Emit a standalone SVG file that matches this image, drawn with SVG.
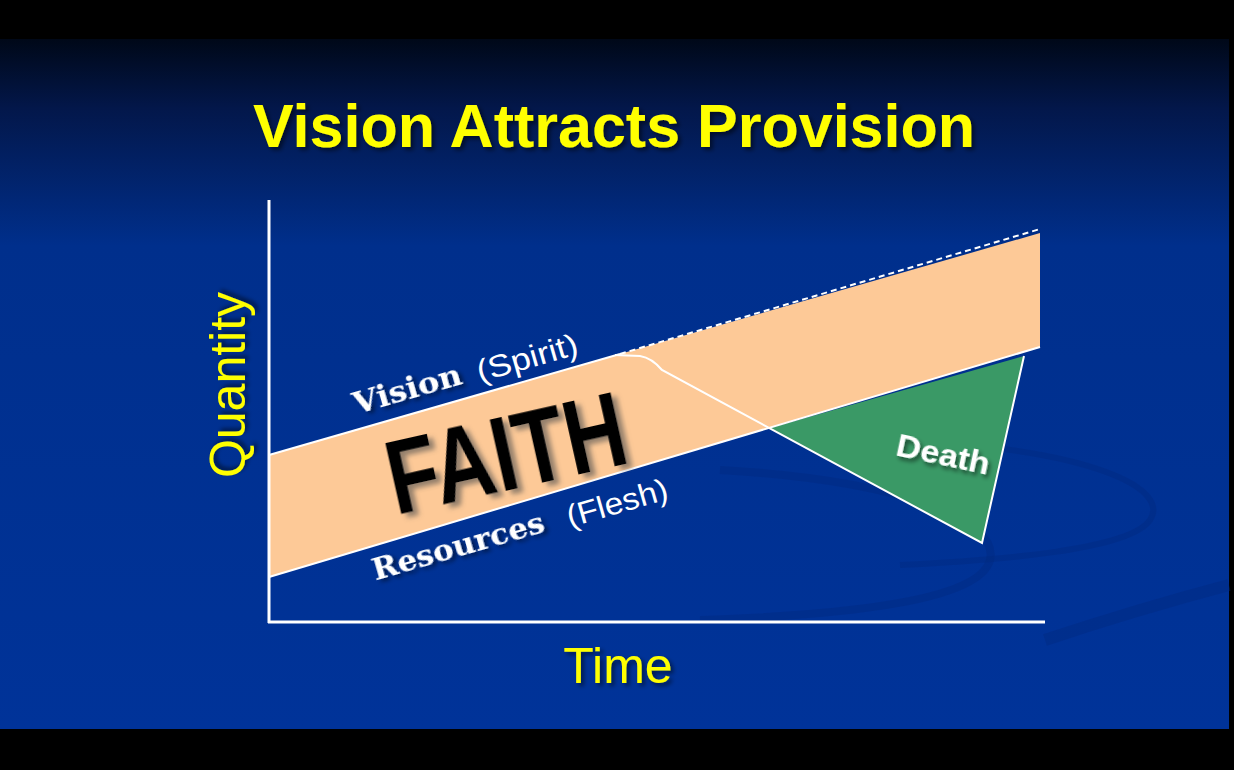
<svg xmlns="http://www.w3.org/2000/svg" width="1234" height="770" viewBox="0 0 1234 770">
  <defs>
    <linearGradient id="bg" x1="0" y1="39" x2="0" y2="729" gradientUnits="userSpaceOnUse">
      <stop offset="0" stop-color="#000818"/>
      <stop offset="0.1" stop-color="#03174a"/>
      <stop offset="0.3" stop-color="#002f8c"/>
      <stop offset="1" stop-color="#003399"/>
    </linearGradient>
    <filter id="shadow" x="-10%" y="-20%" width="130%" height="150%">
      <feGaussianBlur in="SourceAlpha" stdDeviation="2"/>
      <feOffset dx="3" dy="3" result="b"/>
      <feFlood flood-color="#000000" flood-opacity="0.5"/>
      <feComposite in2="b" operator="in"/>
      <feMerge><feMergeNode/><feMergeNode in="SourceGraphic"/></feMerge>
    </filter>
    <filter id="gshadow" x="-10%" y="-20%" width="130%" height="150%">
      <feGaussianBlur in="SourceAlpha" stdDeviation="2.5"/>
      <feOffset dx="5" dy="5" result="b"/>
      <feFlood flood-color="#505050" flood-opacity="0.6"/>
      <feComposite in2="b" operator="in"/>
      <feMerge><feMergeNode/><feMergeNode in="SourceGraphic"/></feMerge>
    </filter>
  </defs>
  <style>
    .yel { fill: #ffff00; font-family: "Liberation Sans", Arial, sans-serif; }
    .slab { fill: #ffffff; font-family: "DejaVu Serif", "Liberation Serif", serif; font-weight: bold; }
    .sans { fill: #ffffff; font-family: "Liberation Sans", Arial, sans-serif; }
    .axis { stroke: #ffffff; stroke-width: 3; fill: none; }
    .edge { stroke: #ffffff; stroke-width: 2; fill: none; }
  </style>

  <rect x="0" y="0" width="1234" height="770" fill="#000000"/>
  <rect x="0" y="39" width="1229" height="690" fill="url(#bg)"/>
  <g id="swoosh" fill="none" stroke="#00287c" stroke-opacity="0.35">
    <path d="M 720 470 C 900 480 1000 520 990 560 C 980 600 850 615 700 620" stroke-width="8"/>
    <path d="M 900 440 C 1100 450 1170 490 1150 520 C 1130 550 1000 560 900 565" stroke-width="6"/>
    <path d="M 1045 640 C 1120 615 1180 598 1229 585" stroke-width="12"/>
  </g>

  <g id="title">
    <text class="yel" x="614" y="147" font-size="61" font-weight="bold" text-anchor="middle" filter="url(#shadow)">Vision Attracts Provision</text>
  </g>

  <g id="band">
    <polygon points="269,455 1040,233 1040,347 269,577" fill="#fdc997"/>
  </g>

  <g id="death">
    <polygon points="770,428 1024,356 982,543" fill="#3a9966"/>
    <text class="sans" transform="translate(941,465) rotate(12)" font-size="32" font-weight="bold" text-anchor="middle" textLength="95" lengthAdjust="spacingAndGlyphs" filter="url(#shadow)">Death</text>
  </g>

  <g id="connectors">
    <line class="axis" x1="269" y1="200" x2="269" y2="623"/>
    <line class="axis" x1="268" y1="622" x2="1045" y2="622"/>
    <line class="edge" x1="269" y1="455" x2="620" y2="354"/>
    <line class="edge" x1="620" y1="354" x2="1040" y2="229" stroke-dasharray="6,4"/>
    <line class="edge" x1="269" y1="577" x2="1040" y2="347" stroke="#e8eeff"/>
    <path class="edge" d="M 615 355 L 640 356 Q 652 358 662 370 L 982 543 L 1024 356"/>
  </g>

  <g id="faith">
    <text transform="translate(514,489) rotate(-12.7)" font-family="Liberation Sans, Arial, sans-serif" font-weight="bold" font-size="106" fill="#000000" text-anchor="middle" textLength="242" lengthAdjust="spacingAndGlyphs" filter="url(#gshadow)">FAITH</text>
  </g>

  <g id="vision-label">
    <text class="slab" transform="translate(410,399) rotate(-16)" font-size="29" text-anchor="middle" textLength="112" lengthAdjust="spacingAndGlyphs" filter="url(#shadow)">Vision</text>
    <text class="sans" transform="translate(530,368) rotate(-16)" font-size="31" text-anchor="middle" textLength="104" lengthAdjust="spacingAndGlyphs">(Spirit)</text>
  </g>

  <g id="resources-label">
    <text class="slab" transform="translate(461,556) rotate(-16)" font-size="29" text-anchor="middle" textLength="178" lengthAdjust="spacingAndGlyphs" filter="url(#shadow)">Resources</text>
    <text class="sans" transform="translate(620,513) rotate(-16)" font-size="31" text-anchor="middle" textLength="104" lengthAdjust="spacingAndGlyphs">(Flesh)</text>
  </g>

  <g id="y-label">
    <text class="yel" transform="translate(245,385) rotate(-90)" font-size="50" text-anchor="middle" filter="url(#shadow)">Quantity</text>
  </g>

  <g id="x-label">
    <text class="yel" x="618" y="683" font-size="50" text-anchor="middle" filter="url(#shadow)">Time</text>
  </g>
</svg>
